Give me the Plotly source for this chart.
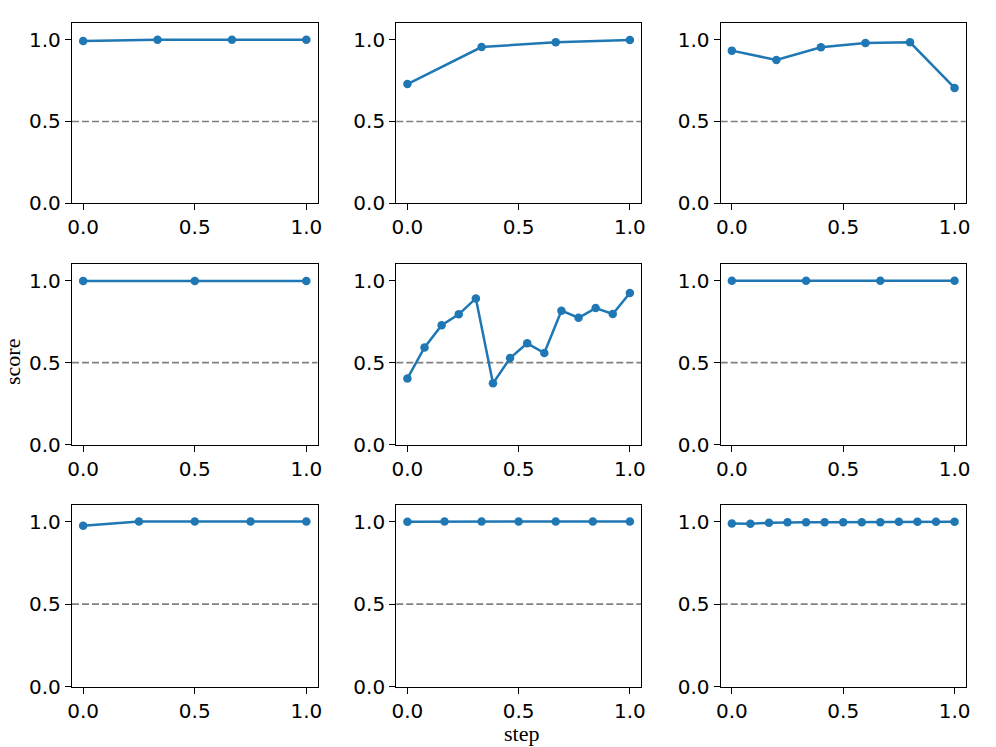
import plotly.graph_objects as go
from plotly.subplots import make_subplots

# data: one list of scores per panel (x is evenly spaced from 0 to 1)
scores_1 = [0.992, 1.0, 1.0, 1.0]
scores_2 = [0.729, 0.955, 0.984, 0.998]
scores_3 = [0.933, 0.876, 0.953, 0.980, 0.984, 0.705]
scores_4 = [0.998, 0.998, 0.998]
scores_5 = [0.404, 0.593, 0.728, 0.795, 0.892, 0.374, 0.528, 0.618, 0.559,
            0.817, 0.774, 0.833, 0.797, 0.925]
scores_6 = [1.0, 1.0, 1.0, 1.0]
scores_7 = [0.975, 1.0, 1.0, 1.0, 1.0]
scores_8 = [0.998, 1.0, 1.0, 1.0, 1.0, 1.0, 1.0]
scores_9 = [0.988, 0.986, 0.992, 0.996, 0.996, 0.996, 0.996, 0.996, 0.996,
            0.998, 0.998, 0.998, 0.998]
all_scores = [scores_1, scores_2, scores_3, scores_4, scores_5, scores_6,
              scores_7, scores_8, scores_9]
threshold = 0.5
x_ticks = [0.0, 0.5, 1.0]
y_ticks = [0.0, 0.5, 1.0]

W, H = 996, 747
col_px = [(72.0, 317.5), (396.3, 641.0), (720.7, 965.7)]
row_px = [(23.3, 203.3), (264.3, 444.7), (505.0, 686.7)]

fig = make_subplots(rows=3, cols=3)
blue = "#1f77b4"
font_tick = dict(family="DejaVu Sans", size=20, color="black")

for i, s in enumerate(all_scores):
    r, c = i // 3 + 1, i % 3 + 1
    n = len(s)
    xs = [k / (n - 1) for k in range(n)]
    fig.add_trace(go.Scatter(x=xs, y=s, mode="lines+markers",
                             line=dict(color=blue, width=2.5),
                             marker=dict(color=blue, size=8.5),
                             showlegend=False, hoverinfo="skip"), row=r, col=c)
    idx = "" if i == 0 else str(i + 1)
    fig.add_shape(type="line", xref=f"x{idx} domain", yref=f"y{idx}",
                  x0=0, x1=1, y0=threshold, y1=threshold,
                  line=dict(color="#808080", width=1.7, dash="7px,3px"), layer="below")
    x0, x1 = col_px[c - 1]
    y0, y1 = row_px[r - 1]
    fig.update_xaxes(domain=[x0 / W, x1 / W], range=[-0.05, 1.05], automargin=False,
                     tickvals=x_ticks, ticktext=[f"{v:.1f}" for v in x_ticks],
                     ticks="outside", ticklen=6, tickwidth=1.3, tickcolor="black",
                     showline=True, linecolor="black", linewidth=1.3, mirror=True,
                     showgrid=False, zeroline=False, tickfont=font_tick,
                     row=r, col=c)
    fig.update_yaxes(domain=[1 - y1 / H, 1 - y0 / H], range=[0, 1.1], automargin=False,
                     tickvals=y_ticks, ticktext=[f"{v:.1f}" for v in y_ticks],
                     ticks="outside", ticklen=6, tickwidth=1.3, tickcolor="black",
                     showline=True, linecolor="black", linewidth=1.3, mirror=True,
                     showgrid=False, zeroline=False, tickfont=font_tick,
                     row=r, col=c)

fig.add_annotation(text="step", x=521 / W, y=1 - 733 / H, xref="paper", yref="paper",
                   xanchor="center", yanchor="middle", showarrow=False, borderpad=0,
                   font=dict(family="Liberation Serif", size=22, color="black"))
fig.add_annotation(text="score", x=12 / W, y=1 - 362 / H, xref="paper", yref="paper",
                   xanchor="center", yanchor="middle", showarrow=False, textangle=-90,
                   borderpad=0,
                   font=dict(family="Liberation Serif", size=22, color="black"))

fig.update_layout(width=W, height=H, margin=dict(l=0, r=0, t=0, b=0, autoexpand=False),
                  plot_bgcolor="white", paper_bgcolor="white")
fig.write_html("out.html", post_script="document.body.style.margin='0px';",
               config={"displayModeBar": False})
